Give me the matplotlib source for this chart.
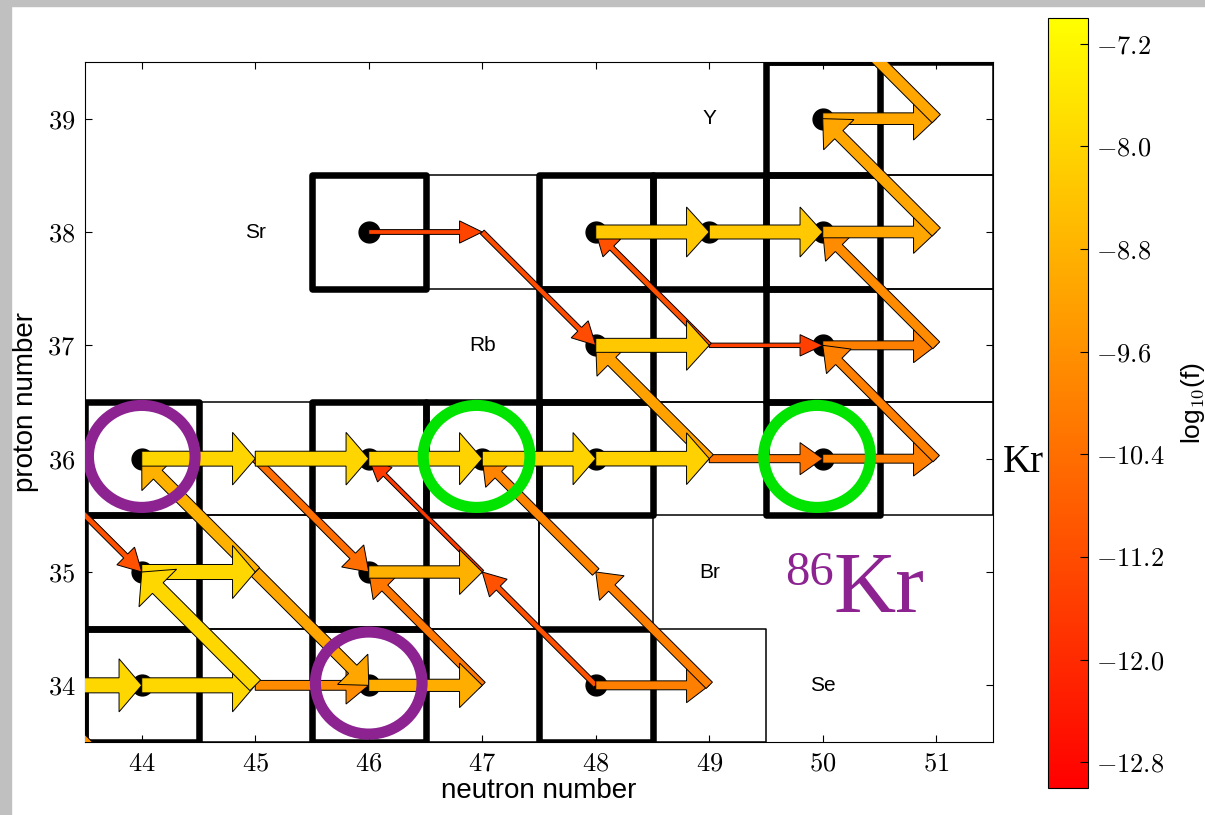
import numpy as np
import matplotlib
matplotlib.use("Agg")
import matplotlib.pyplot as plt
from matplotlib.patches import Rectangle, Ellipse
from matplotlib.ticker import FuncFormatter

plt.rcParams['font.family'] = ['Liberation Sans', 'DejaVu Sans']
plt.rcParams['mathtext.fontset'] = 'cm'

# nuclide cells (neutron number, proton number, stable?)
cell_n = [43, 44, 45, 46, 47, 48, 49,
          44, 45, 46, 47, 48,
          44, 45, 46, 47, 48, 49, 50, 51,
          48, 49, 50, 51,
          46, 47, 48, 49, 50, 51,
          50, 51,
          50, 51]
cell_z = [34, 34, 34, 34, 34, 34, 34,
          35, 35, 35, 35, 35,
          36, 36, 36, 36, 36, 36, 36, 36,
          37, 37, 37, 37,
          38, 38, 38, 38, 38, 38,
          39, 39,
          40, 40]
cell_stable = [1, 1, 0, 1, 0, 1, 0,
               1, 0, 1, 0, 0,
               1, 0, 1, 1, 1, 0, 1, 0,
               1, 0, 1, 0,
               1, 0, 1, 1, 1, 0,
               1, 0,
               1, 1]

# neutron captures (n, z) -> (n+1, z), log10 of flow
cap_n = [43, 44, 45, 46, 48, 44, 46, 44, 45, 46, 47, 48, 49, 50, 48, 49, 50, 46, 48, 49, 50, 50]
cap_z = [34, 34, 34, 34, 34, 35, 35, 36, 36, 36, 36, 36, 36, 36, 37, 37, 37, 38, 38, 38, 38, 39]
cap_logf = [-7.95, -7.95, -9.7, -8.9, -10.0, -7.95, -8.85, -8.0, -8.0, -8.05, -8.05, -8.1,
            -10.3, -10.0, -8.3, -11.5, -10.0, -11.4, -8.3, -8.3, -9.1, -9.1]

# decays (n, z) -> (n+dn, z-dn), log10 of flow
dec_n = [45, 45, 45, 43, 45, 47, 47, 48, 49, 48, 49, 47, 49, 51, 51, 51, 51, 44]
dec_z = [34, 35, 35, 36, 36, 34, 35, 34, 34, 35, 36, 38, 37, 36, 37, 38, 39, 33]
dec_dn = [-1, -1, 1, 1, 1, -1, -1, -1, -1, -1, -1, 1, -1, -1, -1, -1, -1, -1]
dec_logf = [-7.95, -8.85, -9.1, -11.1, -10.4, -10.2, -11.6, -11.1, -10.0, -9.9,
            -9.2, -11.2, -11.1, -10.0, -9.7, -9.1, -9.1, -9.5]

elem_names = ["Se", "Br", "Rb", "Sr", "Y"]
elem_n = [50, 49, 47, 45, 49]
elem_z = [34, 35, 37, 38, 39]

purple_n, purple_z = [44, 46], [36, 34]
green_n, green_z = [47, 50], [36, 36]

cmap = plt.cm.autumn
norm = plt.Normalize(-13, -7)

fig = plt.figure(figsize=(12.05, 8.15), dpi=100)
fig.patches.append(Rectangle((0, 1 - 6 / 815), 1, 6 / 815, transform=fig.transFigure,
                             color='#c0c0c0', zorder=-10))
fig.patches.append(Rectangle((0, 0), 11 / 1205, 1, transform=fig.transFigure,
                             color='#c0c0c0', zorder=-10))

ax = fig.add_axes([85 / 1205, 1 - 742 / 815, 908 / 1205, 680 / 815])
ax.set_xlim(43.5, 51.5)
ax.set_ylim(33.5, 39.5)

# boxes
for n, z, s in zip(cell_n, cell_z, cell_stable):
    r = Rectangle((n - 0.5, z - 0.5), 1, 1, fill=False, ec='k',
                  lw=4.7 if s else 1.1, joinstyle='round', zorder=1 + s)
    ax.add_patch(r)

# stable nuclides as dots
sn = [n for n, s in zip(cell_n, cell_stable) if s]
sz = [z for z, s in zip(cell_z, cell_stable) if s]
ax.plot(sn, sz, 'o', color='k', ms=15, zorder=3)

# arrows, weakest flow drawn first
arrows = []
for n, z, v in zip(cap_n, cap_z, cap_logf):
    arrows.append((v, n, z, 1, 0))
for n, z, dn, v in zip(dec_n, dec_z, dec_dn, dec_logf):
    arrows.append((v, n, z, dn, -dn))
arrows.sort()
for v, n, z, dx, dy in arrows:
    w = 0.0263 * (v + 13)
    ax.arrow(n, z, dx, dy, width=w, head_width=3 * w + 0.07, head_length=0.2,
             length_includes_head=True, fc=cmap(norm(v)), ec='k', lw=0.7, zorder=4)

for name, n, z in zip(elem_names, elem_n, elem_z):
    ax.text(n, z, name, ha='center', va='center', fontsize=15)

for n, z in zip(purple_n, purple_z):
    ax.add_patch(Ellipse((n, z + 0.02), 0.94, 0.9, fill=False, ec='#8c2391', lw=8, zorder=6))
for n, z in zip(green_n, green_z):
    ax.add_patch(Ellipse((n - 0.05, z + 0.02), 0.94, 0.9, fill=False, ec='#00e400', lw=8, zorder=6))

ax.set_xticks(range(44, 52))
ax.set_yticks(range(34, 40))
fmt = FuncFormatter(lambda x, p: r'$%d$' % x)
ax.xaxis.set_major_formatter(fmt)
ax.yaxis.set_major_formatter(fmt)
ax.tick_params(direction='in', top=True, right=True, length=5, labelsize=19, pad=7)
ax.set_xlabel("neutron number", fontsize=20, labelpad=2)
ax.set_ylabel("proton number", fontsize=20, labelpad=6)

cax = fig.add_axes([1048 / 1205, 1 - 788 / 815, 40 / 1205, 770 / 815])
sm = plt.cm.ScalarMappable(norm=norm, cmap=cmap)
cb = fig.colorbar(sm, cax=cax, ticks=np.arange(-7.2, -12.9, -0.8))
cb.ax.yaxis.set_major_formatter(FuncFormatter(lambda x, p: r'$%.1f$' % x))
cb.ax.tick_params(direction='in', length=6, labelsize=19, pad=6)
cb.set_label(r'log$_{\mathsf{10}}$(f)', fontsize=19, labelpad=10)

fig.text(1003 / 1205, 1 - 472 / 815, "Kr", family='Liberation Serif', fontsize=28,
         ha='left', va='baseline')
fig.text(785 / 1205, 1 - 585 / 815, "86", family='Liberation Serif', fontsize=35,
         color='#8c2391', ha='left', va='baseline')
fig.text(833 / 1205, 1 - 612 / 815, "Kr", family='Liberation Serif', fontsize=62,
         color='#8c2391', ha='left', va='baseline')

fig.savefig("out.png", dpi=100)
